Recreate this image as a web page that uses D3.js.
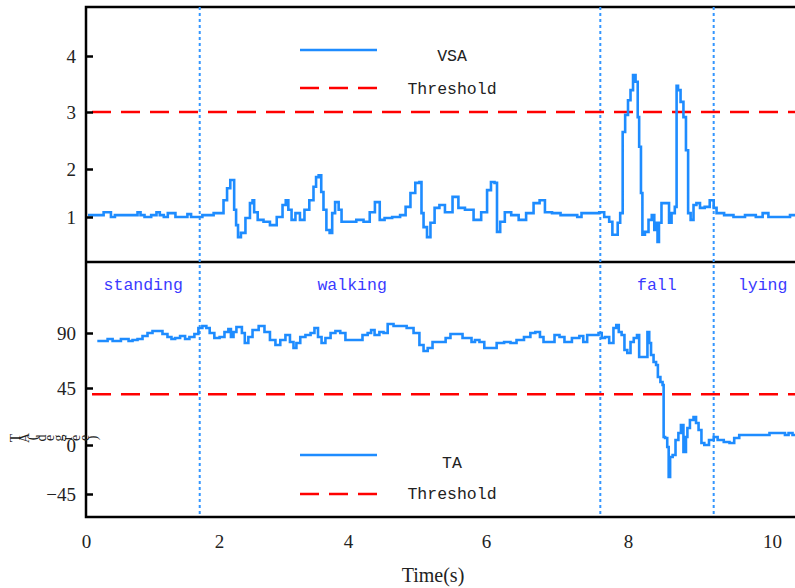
<!DOCTYPE html>
<html>
<head>
<meta charset="utf-8">
<script src="https://cdn.jsdelivr.net/npm/d3@7"></script>
<style>
  body { margin: 0; background: #fff; }
  svg { display: block; }
  .axis text { font-family: "Liberation Serif", serif; fill: #222; }
  .label { font-family: "Liberation Serif", serif; }
  .mono { font-family: "Liberation Mono", monospace; }
</style>
</head>
<body>
<div id="chart"></div>
<script>
////////////////////////////  Data  ////////////////////////////
const xTicks = [0, 2, 4, 6, 8, 10];
const vsaTicks = [1, 2, 3, 4];
const taTicks = [-45, 0, 45, 90];

const vsaThreshold = 3;
const taThreshold = 40;

const phases = ["standing", "walking", "fall", "lying"];
const phaseLabelTime = [0.86, 4.06, 8.4, 9.87];
const phaseBounds = [1.71, 7.61, 9.19];

const vsaTime = [
  0.03, 0.26, 0.27, 0.36, 0.39, 0.48, 0.75, 0.8, 0.84, 0.92, 1.04, 1.08, 1.14, 1.2, 1.26, 1.32, 1.37, 1.5, 1.55, 1.61, 1.71, 1.79,
  2.05, 2.09, 2.16, 2.19, 2.22, 2.25, 2.28, 2.31, 2.37, 2.45, 2.51, 2.53, 2.56, 2.64, 2.74, 2.84, 2.95, 3.02, 3.05, 3.1,
  3.15, 3.22, 3.29, 3.36, 3.44, 3.49, 3.52, 3.57, 3.6, 3.64, 3.69, 3.74, 3.77, 3.83, 3.88, 3.92,
  4.07, 4.17, 4.28, 4.35, 4.43, 4.49, 4.57, 4.71, 4.8, 4.87, 4.94, 5.01, 5.06, 5.07, 5.12, 5.17, 5.22, 5.29, 5.36, 5.45,
  5.58, 5.62, 5.77, 5.87, 5.99,
  6.04, 6.1, 6.14, 6.17, 6.23, 6.3, 6.41, 6.51, 6.62, 6.72, 6.79, 6.87, 6.99, 7.11, 7.25, 7.32, 7.37, 7.56, 7.63, 7.7,
  7.77, 7.79, 7.85, 7.86, 7.92, 7.93, 7.99,
  8.01, 8.06, 8.08, 8.13, 8.14, 8.17, 8.19, 8.21, 8.26, 8.31, 8.35, 8.38, 8.4, 8.42, 8.44, 8.49, 8.56, 8.58, 8.63, 8.67, 8.68,
  8.71, 8.75, 8.79, 8.82, 8.85, 8.89, 8.93, 8.97, 9.03, 9.1, 9.17, 9.21, 9.25, 9.42, 9.51, 9.74, 9.81, 9.93, 9.97, 10.18, 10.32
];
const vsaValue = [
  1.04, 1.04, 1.1, 1.1, 1.0, 1.04, 1.04, 1.1, 1.04, 1.0, 1.04, 1.1, 1.04, 1.0, 1.08, 1.08, 1.0, 1.0, 1.06, 1.0, 1.0, 1.04,
  1.08, 1.35, 1.6, 1.77, 1.77, 1.15, 0.83, 0.58, 0.67, 0.98, 1.29, 1.35, 1.1, 0.94, 0.9, 0.83, 1.0, 1.25, 1.35, 1.15,
  0.94, 1.08, 0.94, 1.15, 1.35, 1.63, 1.83, 1.87, 1.52, 1.15, 0.73, 0.67, 1.08, 1.31, 1.15, 0.9,
  0.9, 0.94, 0.9, 1.1, 1.31, 0.94, 0.98, 1.0, 1.04, 1.21, 1.5, 1.71, 1.73, 1.08, 0.79, 0.58, 0.88, 1.19, 1.25, 1.1,
  1.42, 1.19, 1.15, 0.94, 1.1,
  1.56, 1.73, 1.71, 0.69, 0.9, 1.1, 1.04, 0.94, 1.08, 1.29, 1.35, 1.1, 1.08, 1.04, 1.04, 1.0, 1.08, 1.08, 1.1, 1.0,
  0.9, 0.63, 0.63, 0.88, 1.08, 2.65, 2.95,
  3.21, 3.39, 3.66, 3.54, 2.91, 2.39, 1.5, 0.63, 0.69, 0.94, 1.04, 0.73, 0.88, 0.48, 0.88, 1.29, 1.29, 0.88, 1.08, 1.21, 3.47,
  3.39, 3.18, 2.91, 2.33, 1.08, 0.94, 1.25, 1.29, 1.19, 1.21, 1.35, 1.19, 1.08, 1.04, 1.0, 1.04, 1.0, 1.08, 1.0, 1.0, 1.04
];

const taTime = [
  0.17, 0.32, 0.33, 0.39, 0.41, 0.51, 0.54, 0.62, 0.66, 0.74, 0.81, 0.89, 0.96, 1.04, 1.11, 1.19, 1.26, 1.31, 1.37, 1.46,
  1.52, 1.59, 1.67,
  1.71, 1.79, 1.83, 1.89, 1.97, 2.05, 2.12, 2.17, 2.2, 2.25, 2.29, 2.34, 2.37, 2.43, 2.48, 2.56, 2.67, 2.74, 2.84, 2.91,
  2.99, 3.07, 3.13, 3.18, 3.22, 3.3, 3.38, 3.46, 3.5, 3.57, 3.61, 3.69, 3.77, 3.84, 3.92, 4.0, 4.17, 4.25, 4.32, 4.35,
  4.42, 4.49, 4.54, 4.61, 4.71, 4.8, 4.9, 5.0, 5.07, 5.12, 5.19, 5.26, 5.38, 5.45, 5.52, 5.62, 5.7, 5.77, 5.81, 5.87,
  5.94, 6.01, 6.1, 6.2, 6.31, 6.38, 6.48, 6.59, 6.66, 6.73, 6.79, 6.83, 6.93, 7.0, 7.07, 7.14, 7.28, 7.35, 7.39, 7.46,
  7.56,
  7.61, 7.65, 7.7, 7.77, 7.82, 7.85, 7.89, 7.93, 7.97, 8.01, 8.06, 8.1, 8.15, 8.16, 8.26, 8.28, 8.31, 8.33, 8.38, 8.4,
  8.43, 8.47, 8.49, 8.5, 8.53, 8.56, 8.57, 8.6, 8.64, 8.68, 8.72, 8.75, 8.79, 8.82, 8.83, 8.89, 8.93, 8.96, 9.0, 9.04,
  9.08, 9.17, 9.21, 9.28, 9.38, 9.44, 9.51, 9.58, 9.74, 9.93, 10.0, 10.15, 10.21, 10.25, 10.32
];
const taValue = [
  83.5, 83.5, 85.1, 85.1, 83.5, 83.5, 85.1, 85.1, 83.5, 84.3, 85.1, 87.5, 90, 91.6, 91.6, 89.2, 86.7, 85.1, 85.9, 87.5,
  85.1, 86.7, 89.2,
  94.1, 95.7, 94.1, 90, 85.9, 86.7, 90.8, 93.3, 86.7, 90.8, 94.9, 94.9, 90, 81.8, 86.7, 92.5, 95.7, 90.8, 84.3, 80.2,
  84.3, 88.4, 82.6, 77.7, 81.8, 86.7, 88.4, 90, 94.1, 86.7, 81.8, 85.9, 90, 91.6, 90, 84.3, 84.3, 88.4, 90, 92.5,
  88.4, 90.8, 90, 97.4, 95.7, 95.7, 94.1, 90, 80.2, 75.3, 77.7, 82.6, 82.6, 85.9, 89.2, 89.2, 85.9, 85.9, 82.6, 84.3,
  82.6, 77.7, 77.7, 81.8, 82.6, 81.8, 84.3, 86.7, 90, 90.8, 86.7, 82.6, 82.6, 88.4, 86.7, 82.6, 85.9, 87.5, 82.6, 88.4,
  88.4,
  90, 85.9, 86.7, 81.8, 94.1, 96.5, 90.8, 88.4, 76.1, 73.6, 82.6, 85.9, 88.4, 70.4, 70.4, 90.8, 81.8, 72.0, 66.3, 63.8,
  54.0, 49.9, 47.5, 6.3, 5.5, -1.8, -29.4, -11.0, -9.2, 3.9, 9.5, 15.8, -6.4, 6.3, 13.4, 19.7, 22.1, 17.4, 11.8, 1.6,
  0, 3.9, 6.3, 3.9, 2.4, 1.6, 5.5, 7.9, 7.9, 7.9, 9.5, 9.5, 7.9, 9.5, 7.9
];

////////////////////////////  Layout  ////////////////////////////
const width = 795, height = 588;
const plot = { left: 86, right: 797, top: 7, mid: 262, bottom: 517 };

const svg = d3.select("#chart").append("svg")
  .attr("width", width)
  .attr("height", height);

// scales (tick spacing in the figure is uneven, so multi-point domains)
const x = d3.scaleLinear().domain(xTicks).range([86, 219, 348, 486, 628, 772]);
const yVsa = d3.scaleLinear().domain(vsaTicks).range([217, 169, 112, 56]);
const yTa = d3.scaleLinear().domain(taTicks).range([494, 445, 388, 333]);

const lineColor = "#1e8cff";
const threshColor = "#ff0000";

//frame
svg.append("rect")
  .attr("x", plot.left).attr("y", plot.top)
  .attr("width", plot.right - plot.left).attr("height", plot.bottom - plot.top)
  .attr("fill", "none").attr("stroke", "#000").attr("stroke-width", 2.5);
svg.append("line")
  .attr("x1", plot.left).attr("x2", plot.right)
  .attr("y1", plot.mid).attr("y2", plot.mid)
  .attr("stroke", "#000").attr("stroke-width", 2.5);

//phase boundaries
svg.selectAll(".bound")
  .data(phaseBounds)
  .join("line")
  .attr("class", "bound")
  .attr("x1", (d) => x(d)).attr("x2", (d) => x(d))
  .attr("y1", plot.top).attr("y2", plot.bottom)
  .attr("stroke", "#3396ff")
  .attr("stroke-width", 2)
  .attr("stroke-dasharray", "3,3");

//thresholds
svg.append("line")
  .attr("x1", plot.left + 6).attr("x2", plot.right)
  .attr("y1", yVsa(vsaThreshold)).attr("y2", yVsa(vsaThreshold))
  .attr("stroke", threshColor).attr("stroke-width", 2.5)
  .attr("stroke-dasharray", "19,10");
svg.append("line")
  .attr("x1", plot.left + 6).attr("x2", plot.right)
  .attr("y1", yTa(taThreshold)).attr("y2", yTa(taThreshold))
  .attr("stroke", threshColor).attr("stroke-width", 2.5)
  .attr("stroke-dasharray", "19,10");

//signals (stepped, like the sampled trace)
const vsaLine = d3.line()
  .curve(d3.curveStep)
  .x((d, i) => x(vsaTime[i]))
  .y((d) => yVsa(d));
const taLine = d3.line()
  .curve(d3.curveStep)
  .x((d, i) => x(taTime[i]))
  .y((d) => yTa(d));

svg.append("path")
  .datum(vsaValue)
  .attr("d", vsaLine)
  .attr("fill", "none")
  .attr("stroke", lineColor)
  .attr("stroke-width", 2.6);
svg.append("path")
  .datum(taValue)
  .attr("d", taLine)
  .attr("fill", "none")
  .attr("stroke", lineColor)
  .attr("stroke-width", 2.6);

//axes
const styleAxis = (sel, size) => {
  sel.select(".domain").remove();
  sel.selectAll(".tick line").attr("stroke", "#000").attr("stroke-width", 2.5);
  sel.selectAll(".tick text").style("font-size", size + "px");
};

svg.append("g")
  .attr("class", "axis")
  .attr("transform", `translate(${plot.left},0)`)
  .call(d3.axisLeft(yVsa).tickValues(vsaTicks).tickFormat(d3.format("d"))
    .tickSizeInner(-7).tickSizeOuter(0).tickPadding(10))
  .call(styleAxis, 19);

svg.append("g")
  .attr("class", "axis")
  .attr("transform", `translate(${plot.left},0)`)
  .call(d3.axisLeft(yTa).tickValues(taTicks)
    .tickFormat((d) => (d < 0 ? "\u2212" + Math.abs(d) : d))
    .tickSizeInner(-7).tickSizeOuter(0).tickPadding(10))
  .call(styleAxis, 19);

svg.append("g")
  .attr("class", "axis")
  .attr("transform", `translate(0,${plot.bottom})`)
  .call(d3.axisBottom(x).tickValues(xTicks).tickSize(0).tickPadding(18))
  .call(styleAxis, 19);

svg.append("text")
  .attr("class", "label")
  .attr("x", 433).attr("y", 582)
  .attr("text-anchor", "middle")
  .style("font-size", "20px")
  .attr("fill", "#222")
  .text("Time(s)");

// y label of lower panel, drawn letter by letter as in the figure
svg.selectAll(".ylab")
  .data("TA(degree)".split(""))
  .join("text")
  .attr("class", "label ylab")
  .attr("transform", (d, i) => `translate(${15 + i * 8.6},438) rotate(-90)`)
  .attr("text-anchor", "middle")
  .attr("dy", "0.35em")
  .style("font-size", "14px")
  .attr("fill", "#222")
  .text((d) => d);

//phase labels
svg.selectAll(".phase")
  .data(phases)
  .join("text")
  .attr("class", "mono phase")
  .attr("x", (d, i) => x(phaseLabelTime[i]))
  .attr("y", 284)
  .attr("dy", "0.35em")
  .attr("text-anchor", "middle")
  .style("font-size", "16.5px")
  .attr("fill", "#3a3aff")
  .text((d) => d);

//legends
const legends = [
  { name: "VSA", y: 50, ty: 55, dash: null, color: lineColor },
  { name: "Threshold", y: 88, ty: 88, dash: "19,10", color: threshColor },
  { name: "TA", y: 455, ty: 462, dash: null, color: lineColor },
  { name: "Threshold", y: 494, ty: 493, dash: "19,10", color: threshColor },
];
const leg = svg.selectAll(".legend").data(legends).join("g").attr("class", "legend");
leg.append("line")
  .attr("x1", 300).attr("x2", 377)
  .attr("y1", (d) => d.y).attr("y2", (d) => d.y)
  .attr("stroke", (d) => d.color)
  .attr("stroke-width", 2.5)
  .attr("stroke-dasharray", (d) => d.dash);
leg.append("text")
  .attr("class", "mono")
  .attr("x", 452)
  .attr("y", (d) => d.ty)
  .attr("dy", "0.35em")
  .attr("text-anchor", "middle")
  .style("font-size", "16.5px")
  .attr("fill", "#222")
  .text((d) => d.name);
</script>
</body>
</html>
